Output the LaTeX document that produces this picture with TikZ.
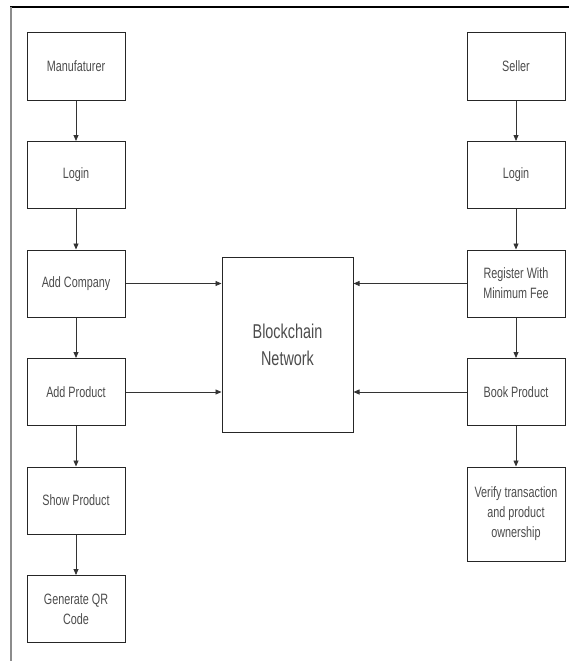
\documentclass[tikz,border=0pt]{standalone}
\usepackage{fontspec}
\usepackage{tikz}
\usetikzlibrary{arrows.meta,positioning}
\newfontfamily\boxfont[FakeStretch=0.72]{Liberation Sans}
\tikzset{
  stepbox/.style={draw=black!85, line width=1pt, minimum width=98pt, minimum height=67pt,
    align=center, text=black!70, inner sep=2pt, font=\boxfont\fontsize{15}{20}\selectfont},
  chainbox/.style={stepbox, minimum width=131pt, minimum height=175pt,
    font=\boxfont\fontsize{20}{27}\selectfont},
  flow/.style={draw=black!80, line width=0.8pt, -{Triangle[length=6pt,width=5pt]}},
}

\begin{document}
\begin{tikzpicture}[x=1pt,y=-1pt,node distance=40.5pt]
        \useasboundingbox (0,0) rectangle (569,661);
        % page edges
        \draw[line width=2pt] (10,7) -- (569,7);
        \draw[black!45, line width=1.5pt] (11,7) -- (11,661);
        % manufacturer side
        \node[stepbox] (manuf) at (76,66.5) {Manufaturer};
        \node[stepbox, below=of manuf] (mlogin) {Login};
        \node[stepbox, below=of mlogin] (addcomp) {Add Company};
        \node[stepbox, below=of addcomp] (addprod) {Add Product};
        \node[stepbox, below=of addprod] (showprod) {Show Product};
        \node[stepbox, below=of showprod] (genqr) {Generate QR\\Code};
        % seller side
        \node[stepbox] (seller) at (516,66.5) {Seller};
        \node[stepbox, below=of seller] (slogin) {Login};
        \node[stepbox, below=of slogin] (register) {Register With\\Minimum Fee};
        \node[stepbox, below=of register] (bookprod) {Book Product};
        \node[stepbox, below=of bookprod, minimum height=94pt] (verify) {Verify transaction\\and product\\ownership};
        % network
        \node[chainbox] (chain) at (287.5,344.5) {Blockchain\\Network};
        \draw[flow] (manuf) -- (mlogin);
        \draw[flow] (mlogin) -- (addcomp);
        \draw[flow] (addcomp) -- (addprod);
        \draw[flow] (addprod) -- (showprod);
        \draw[flow] (showprod) -- (genqr);
        \draw[flow] (seller) -- (slogin);
        \draw[flow] (slogin) -- (register);
        \draw[flow] (register) -- (bookprod);
        \draw[flow] (bookprod) -- (verify);
        \draw[flow] (addcomp.east) -- (chain.west |- addcomp.east);
        \draw[flow] (addprod.east) -- (chain.west |- addprod.east);
        \draw[flow] (register.west) -- (chain.east |- register.west);
        \draw[flow] (bookprod.west) -- (chain.east |- bookprod.west);
\end{tikzpicture}
\end{document}
